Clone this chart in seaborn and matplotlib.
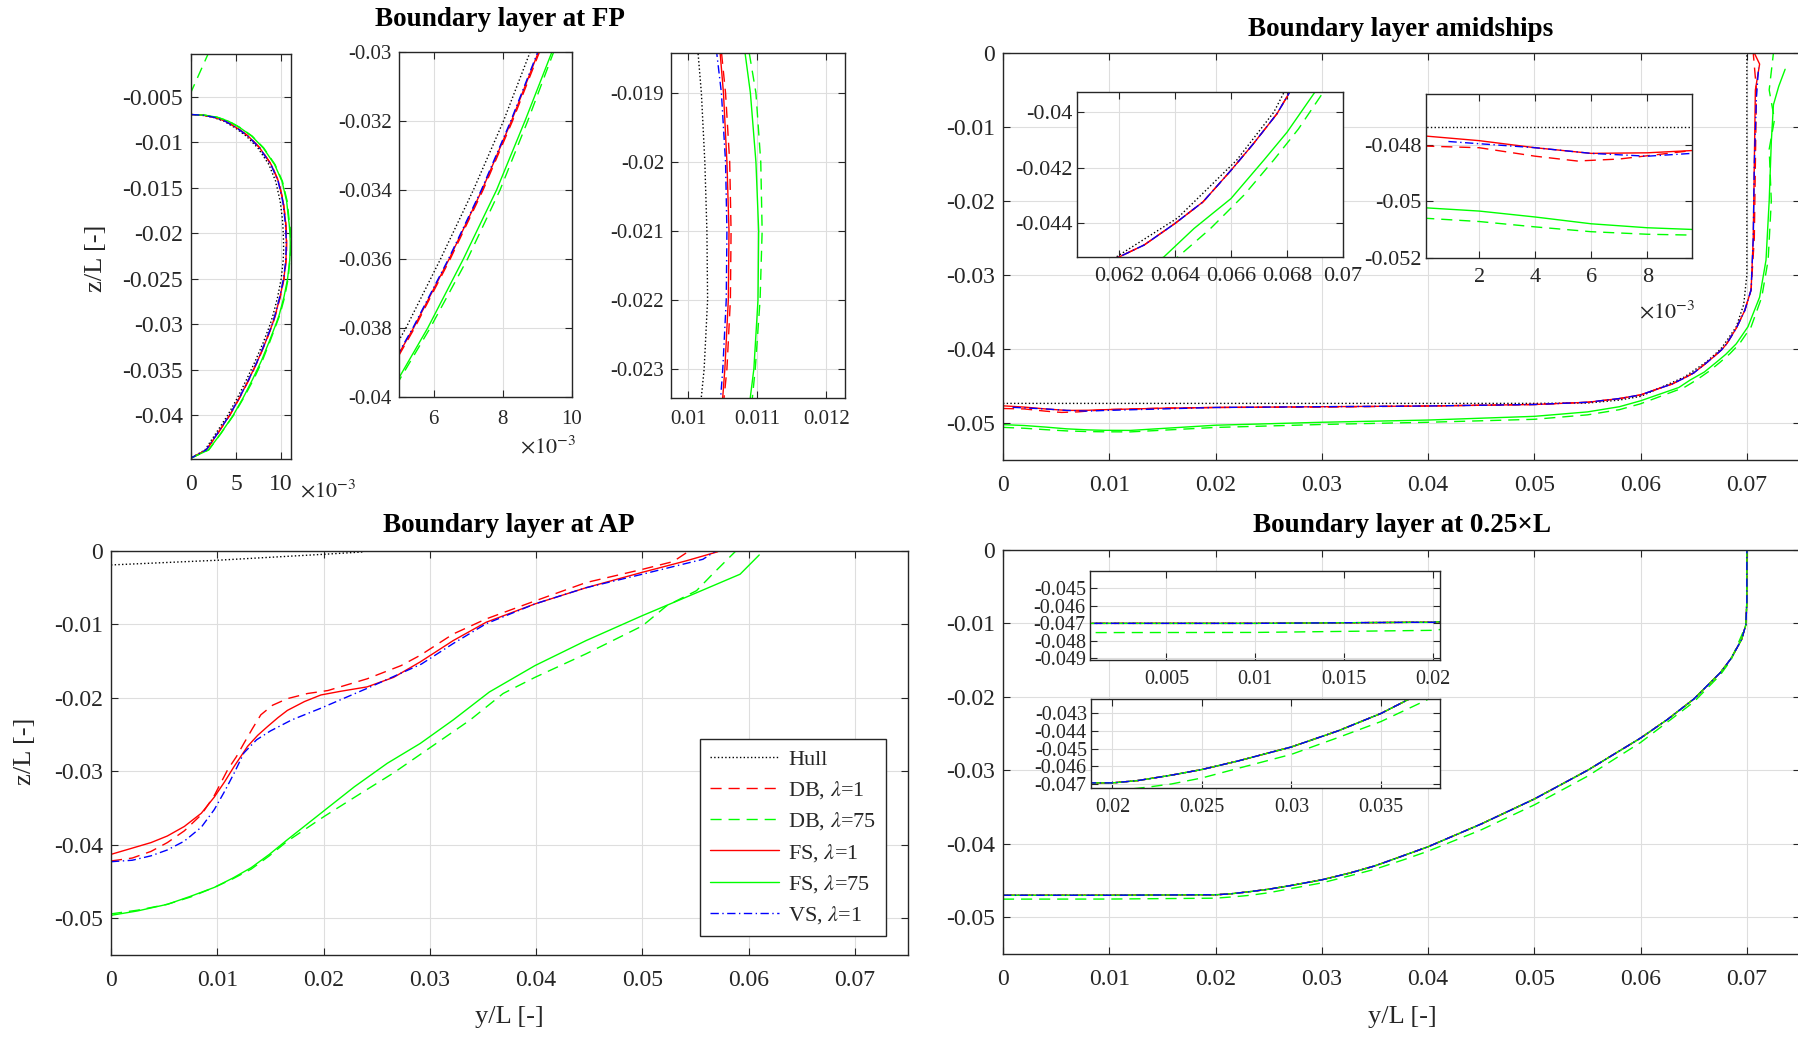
"""
Boundary layer profiles (FP, amidships, AP, 0.25L) - hull vs. DB / FS / VS
"""

import numpy as np
import matplotlib
matplotlib.use('Agg')
import matplotlib.pyplot as plt
from matplotlib.ticker import FuncFormatter
import seaborn as sns

sns.set_theme(style='ticks')
plt.rcParams['font.family'] = ['Liberation Serif', 'DejaVu Serif']
plt.rcParams['mathtext.fontset'] = 'stix'
plt.rcParams['axes.unicode_minus'] = False

W, H = 1798, 1037

# ---------------- FP (x in 1e-3) ----------------
fp_z = [-0.00695, -0.00702, -0.00724, -0.00768, -0.00841, -0.00933, -0.01062, -0.01245,
        -0.01429, -0.01649, -0.0184, -0.0190, -0.0200, -0.0210, -0.0220, -0.0230, -0.0234,
        -0.0250, -0.0270, -0.0290, -0.0300, -0.0320, -0.0340, -0.0360, -0.0380, -0.0400,
        -0.0420, -0.0438, -0.0447]
fp_hull = [0, 1.15, 2.40, 3.65, 4.90, 6.15, 7.42, 8.65, 9.40, 9.90, 10.14, 10.19, 10.24, 10.27,
           10.28, 10.23, 10.19, 10.01, 9.62, 9.10, 8.79, 8.02, 7.15, 6.20, 5.20, 4.07, 2.75, 1.55, 0]
fp_db1 = [0, 1.30, 2.57, 3.84, 5.11, 6.39, 7.66, 8.93, 9.73, 10.25, 10.48, 10.54, 10.60, 10.62,
          10.61, 10.56, 10.52, 10.33, 9.91, 9.38, 9.06, 8.28, 7.43, 6.48, 5.45, 4.31, 2.98, 1.72, 0]
fp_db75 = [0, 1.55, 2.90, 4.20, 5.50, 6.80, 8.07, 9.33, 10.15, 10.68, 10.88, 10.98, 11.05, 11.07,
           11.04, 10.97, 10.93, 10.78, 10.40, 9.85, 9.47, 8.72, 7.92, 6.98, 5.90, 4.72, 3.32, 1.97, 0]
fp_fs1 = [0, 1.27, 2.54, 3.81, 5.08, 6.36, 7.63, 8.90, 9.70, 10.22, 10.46, 10.51, 10.56, 10.59,
          10.58, 10.53, 10.50, 10.30, 9.88, 9.35, 9.03, 8.25, 7.40, 6.45, 5.42, 4.28, 2.95, 1.70, 0]
fp_fs75 = [0, 1.50, 2.85, 4.15, 5.45, 6.75, 8.02, 9.28, 10.10, 10.62, 10.82, 10.90, 10.98, 11.02,
           11.01, 10.95, 10.90, 10.72, 10.32, 9.78, 9.42, 8.64, 7.82, 6.86, 5.83, 4.68, 3.30, 1.95, 0]
fp_vs1 = [0, 1.24, 2.51, 3.78, 5.05, 6.33, 7.60, 8.87, 9.67, 10.19, 10.41, 10.48, 10.54, 10.56,
          10.55, 10.50, 10.47, 10.27, 9.85, 9.32, 9.01, 8.23, 7.38, 6.43, 5.40, 4.26, 2.93, 1.68, 0]
# parts above the hull (top of the FP section)
fp_db1_top_y, fp_db1_top_z = [0.0], [-0.0006]
fp_db75_top_y, fp_db75_top_z = [2.03, 0.0], [0.0, -0.0045]
fp_fs75_top_y, fp_fs75_top_z = [0.0], [-0.0045]

# ---------------- amidships ----------------
ams_hull_y = [0, 0.05, 0.055, 0.058, 0.060, 0.0619, 0.0641, 0.0662, 0.06753, 0.0679, 0.069,
              0.0697, 0.0700, 0.0700]
ams_hull_z = [-0.04735, -0.04735, -0.0473, -0.0469, -0.0464, -0.0452, -0.0438, -0.04174, -0.04002,
              -0.0393, -0.0370, -0.0340, -0.0300, 0.0]
ams_db1_y = [0, 0.002, 0.004, 0.0055, 0.007, 0.0096, 0.015, 0.02, 0.03, 0.04, 0.05, 0.055, 0.058,
             0.060, 0.0620, 0.0629, 0.0640, 0.0650, 0.0660, 0.0668, 0.06764, 0.0681, 0.069,
             0.0698, 0.0704, 0.0707, 0.0708, 0.0709, 0.0706]
ams_db1_z = [-0.04804, -0.0481, -0.0484, -0.04857, -0.0485, -0.0482, -0.0480, -0.0479, -0.04785,
             -0.0477, -0.0475, -0.0472, -0.0467, -0.0462, -0.0452, -0.04477, -0.0440, -0.04323,
             -0.0421, -0.04115, -0.04008, -0.0393, -0.0372, -0.0348, -0.0320, -0.0250, -0.0150,
             -0.0050, 0.0]
ams_db75_y = [0, 0.002, 0.004, 0.006, 0.008, 0.0096, 0.012, 0.02, 0.03, 0.04, 0.05, 0.055, 0.058,
              0.060, 0.0641, 0.06527, 0.06646, 0.06752, 0.06841, 0.0693, 0.0704, 0.0714, 0.0720,
              0.0723, 0.0721, 0.0726, 0.0721, 0.0725]
ams_db75_z = [-0.05059, -0.05071, -0.0509, -0.05107, -0.05116, -0.05119, -0.0512, -0.0506, -0.0502,
              -0.0499, -0.0495, -0.0489, -0.0482, -0.0474, -0.0452, -0.04418, -0.04299, -0.04174,
              -0.04062, -0.0393, -0.0370, -0.0330, -0.0280, -0.0200, -0.0130, -0.0090, -0.0050, 0.0]
ams_fs1_y = [0, 0.002, 0.004, 0.006, 0.008, 0.0096, 0.015, 0.02, 0.03, 0.04, 0.05, 0.055, 0.058,
             0.060, 0.0620, 0.0629, 0.0640, 0.0650, 0.0660, 0.0668, 0.06764, 0.0681, 0.069,
             0.0698, 0.0704, 0.0706, 0.0707, 0.0708, 0.0712, 0.0707]
ams_fs1_z = [-0.04768, -0.04785, -0.0481, -0.0483, -0.04828, -0.0482, -0.0480, -0.0479, -0.0478,
             -0.0477, -0.0475, -0.0472, -0.0467, -0.0462, -0.0452, -0.04477, -0.0440, -0.04323,
             -0.0421, -0.04115, -0.04008, -0.0393, -0.0372, -0.0348, -0.0320, -0.0250, -0.0150,
             -0.0050, -0.0015, 0.0]
ams_fs75_y = [0, 0.002, 0.004, 0.006, 0.008, 0.0096, 0.012, 0.02, 0.03, 0.04, 0.05, 0.055, 0.058,
              0.060, 0.0636, 0.06468, 0.0660, 0.06717, 0.0680, 0.0690, 0.0701, 0.0712, 0.0718,
              0.0721, 0.0723, 0.0725, 0.0730, 0.0736]
ams_fs75_z = [-0.05022, -0.05034, -0.05055, -0.05079, -0.05093, -0.05099, -0.0510, -0.0503, -0.0499,
              -0.0496, -0.0491, -0.0485, -0.0478, -0.0470, -0.0452, -0.04418, -0.04311, -0.04174,
              -0.04074, -0.0393, -0.0370, -0.0330, -0.0280, -0.0200, -0.0120, -0.0070, -0.0045,
              -0.0022]
ams_vs1_y = [0.0009, 0.004, 0.006, 0.008, 0.0096, 0.015, 0.02, 0.03, 0.04, 0.05, 0.055, 0.058,
             0.060, 0.0620, 0.0629, 0.0640, 0.0650, 0.0660, 0.0668, 0.06764, 0.0681, 0.069, 0.0698,
             0.0704, 0.0706, 0.0707, 0.0709, 0.0711]
ams_vs1_z = [-0.04788, -0.0481, -0.0483, -0.0484, -0.0483, -0.0481, -0.0479, -0.0478, -0.0477,
             -0.0475, -0.0472, -0.0467, -0.0462, -0.0452, -0.04477, -0.0440, -0.04323, -0.0421,
             -0.04115, -0.04008, -0.0393, -0.0372, -0.0348, -0.0320, -0.0250, -0.0150, -0.0060,
             -0.0020]

# ---------------- AP ----------------
ap_hull_y = [0, 0.01, 0.02, 0.0238]
ap_hull_z = [-0.0019, -0.00126, -0.00045, -0.00012]
ap_db1_y = [0, 0.002, 0.00376, 0.0053, 0.0069, 0.0085, 0.00972, 0.01097, 0.0118, 0.0125, 0.0133,
            0.0141, 0.0152, 0.0166, 0.0185, 0.0204, 0.0241, 0.0273, 0.0291, 0.0322, 0.0353, 0.0399,
            0.0447, 0.050, 0.0529, 0.0544]
ap_db1_z = [-0.0422, -0.0418, -0.0409, -0.0397, -0.0381, -0.0359, -0.0333, -0.0298, -0.0280,
            -0.0262, -0.0242, -0.0223, -0.0210, -0.0201, -0.0194, -0.0190, -0.0174, -0.0156,
            -0.0142, -0.0113, -0.00925, -0.0068, -0.0043, -0.0025, -0.00144, 0.0]
ap_db75_y = [0, 0.0025, 0.0053, 0.0075, 0.00972, 0.0115, 0.0132, 0.0149, 0.0166, 0.0201, 0.0235,
             0.0266, 0.0304, 0.0338, 0.0369, 0.0399, 0.0447, 0.050, 0.0523, 0.0551, 0.0566, 0.0588]
ap_db75_z = [-0.0494, -0.0489, -0.0481, -0.0471, -0.0458, -0.0446, -0.0433, -0.0415, -0.0395,
             -0.0361, -0.0330, -0.0302, -0.0264, -0.0230, -0.0194, -0.0172, -0.0140, -0.0102,
             -0.00745, -0.0054, -0.00316, 0.0]
ap_fs1_y = [0, 0.00376, 0.0053, 0.0069, 0.0085, 0.00972, 0.0107, 0.0116, 0.01285, 0.0138, 0.01473,
            0.0157, 0.0166, 0.0182, 0.01975, 0.0216, 0.0241, 0.0266, 0.0291, 0.0322, 0.0353,
            0.0399, 0.0447, 0.050, 0.0541, 0.0571]
ap_fs1_z = [-0.0413, -0.0397, -0.0388, -0.0375, -0.0357, -0.0335, -0.0314, -0.0293, -0.0266,
            -0.0251, -0.0239, -0.0227, -0.0217, -0.0205, -0.0196, -0.0191, -0.0185, -0.0172,
            -0.0151, -0.0122, -0.0097, -0.0072, -0.0050, -0.0029, -0.00135, -0.0001]
ap_fs75_y = [0, 0.0025, 0.0053, 0.0075, 0.00972, 0.0115, 0.0132, 0.0149, 0.0166, 0.01975, 0.0229,
             0.0260, 0.0291, 0.0322, 0.0356, 0.0399, 0.0447, 0.050, 0.0541, 0.0592, 0.0610]
ap_fs75_z = [-0.0496, -0.0490, -0.0481, -0.0470, -0.0458, -0.0445, -0.0431, -0.0413, -0.0393,
             -0.0357, -0.0321, -0.0289, -0.0262, -0.0230, -0.0192, -0.0156, -0.0122, -0.0088,
             -0.0063, -0.00316, -0.00054]
ap_vs1_y = [0, 0.002, 0.00376, 0.0053, 0.0069, 0.0085, 0.00972, 0.0107, 0.0116, 0.0125, 0.0137,
            0.0150, 0.0170, 0.01975, 0.0241, 0.0292, 0.0322, 0.0353, 0.0399, 0.0447, 0.050,
            0.0557, 0.0568]
ap_vs1_z = [-0.0423, -0.0421, -0.0415, -0.0407, -0.0395, -0.0376, -0.0352, -0.0327, -0.0302,
            -0.0275, -0.0257, -0.0245, -0.0230, -0.0214, -0.0187, -0.0154, -0.0126, -0.0099,
            -0.0072, -0.0050, -0.00316, -0.00113, -0.0001]

# ---------------- 0.25 x L ----------------
q_fs_y = [0, 0.01, 0.0188, 0.02, 0.0214, 0.0233, 0.025, 0.027, 0.03, 0.0326, 0.035, 0.0367, 0.04,
          0.045, 0.05, 0.055, 0.06, 0.0625, 0.065, 0.0675, 0.0685, 0.0695, 0.0699, 0.0700, 0.0700]
q_fs_z = [-0.0470, -0.0470, -0.04694, -0.04694, -0.04681, -0.0465, -0.04618, -0.0457, -0.0449,
          -0.04399, -0.0430, -0.04212, -0.0404, -0.0373, -0.0339, -0.0300, -0.0256, -0.0231,
          -0.0203, -0.0167, -0.0148, -0.0122, -0.0102, -0.0070, 0.0]
q_db75_y = [0, 0.01, 0.02, 0.0219, 0.0233, 0.025, 0.027, 0.03, 0.0326, 0.035, 0.0378, 0.04, 0.045,
            0.05, 0.055, 0.06, 0.065, 0.0675, 0.0685, 0.0699, 0.0700, 0.0700]
q_db75_z = [-0.04753, -0.04752, -0.0474, -0.04719, -0.0470, -0.04666, -0.04612, -0.04532, -0.04437,
            -0.04346, -0.04212, -0.0410, -0.0381, -0.0347, -0.0308, -0.0262, -0.0207, -0.0170,
            -0.0150, -0.0103, -0.0070, 0.0]

SERIES = ['Hull', 'DB1', 'DB75', 'FS1', 'FS75', 'VS1']
LABELS = ['Hull', r'DB, $\lambda$=1', r'DB, $\lambda$=75', r'FS, $\lambda$=1',
          r'FS, $\lambda$=75', r'VS, $\lambda$=1']
STYLE = {
    'Hull': dict(color='black', ls=':'),
    'DB1': dict(color='#ff0000', ls=(0, (8, 5))),
    'DB75': dict(color='#00ff00', ls=(0, (8, 5))),
    'FS1': dict(color='#ff0000', ls='-'),
    'FS75': dict(color='#00ff00', ls='-'),
    'VS1': dict(color='#0000ff', ls=(0, (6, 2.5, 1, 2.5))),
}

e3 = 1e-3
fp_data = {
    'Hull': (np.array(fp_hull) * e3, fp_z),
    'DB1': (np.array(fp_db1_top_y + fp_db1) * e3, fp_db1_top_z + fp_z),
    'DB75': (np.array(fp_db75_top_y + fp_db75) * e3, fp_db75_top_z + fp_z),
    'FS1': (np.array(fp_fs1) * e3, fp_z),
    'FS75': (np.array(fp_fs75_top_y + fp_fs75) * e3, fp_fs75_top_z + fp_z),
    'VS1': (np.array(fp_vs1) * e3, fp_z),
}
ams_data = {
    'Hull': (ams_hull_y, ams_hull_z), 'DB1': (ams_db1_y, ams_db1_z),
    'DB75': (ams_db75_y, ams_db75_z), 'FS1': (ams_fs1_y, ams_fs1_z),
    'FS75': (ams_fs75_y, ams_fs75_z), 'VS1': (ams_vs1_y, ams_vs1_z),
}
ap_data = {
    'Hull': (ap_hull_y, ap_hull_z), 'DB1': (ap_db1_y, ap_db1_z),
    'DB75': (ap_db75_y, ap_db75_z), 'FS1': (ap_fs1_y, ap_fs1_z),
    'FS75': (ap_fs75_y, ap_fs75_z), 'VS1': (ap_vs1_y, ap_vs1_z),
}
q_data = {
    'Hull': (q_fs_y, q_fs_z), 'DB1': (q_fs_y, q_fs_z),
    'DB75': (q_db75_y, q_db75_z), 'FS1': (q_fs_y, q_fs_z),
    'FS75': (q_fs_y, q_fs_z), 'VS1': (q_fs_y, q_fs_z),
}

fig = plt.figure(figsize=(W / 100, H / 100), dpi=100)


def px_axes(l, t, r, b):
    return fig.add_axes([l / W, 1 - b / H, (r - l) / W, (b - t) / H])


def draw(ax, data):
    for key in SERIES:
        x, z = data[key]
        st = STYLE[key]
        sns.lineplot(x=list(x), y=list(z), ax=ax, sort=False, estimator=None,
                     color=st['color'], linestyle=st['ls'], linewidth=1.0)


def style_ax(ax, xlim, ylim, xticks, yticks, fs, xpad, ypad, scale_x=False):
    ax.set_xlim(xlim)
    ax.set_ylim(ylim)
    ax.set_xticks(xticks)
    ax.set_yticks(yticks)
    if scale_x:
        ax.xaxis.set_major_formatter(FuncFormatter(lambda v, p: '%g' % round(v * 1e3, 6)))
    else:
        ax.xaxis.set_major_formatter(FuncFormatter(lambda v, p: '%g' % round(v, 6)))
    ax.yaxis.set_major_formatter(FuncFormatter(lambda v, p: '%g' % round(v, 6)))
    ax.set_facecolor('white')
    ax.grid(True, color='#dedede', linewidth=0.8)
    ax.set_axisbelow(True)
    ax.tick_params(direction='in', top=True, right=True, bottom=True, left=True,
                   length=5, width=0.8, color='#262626', labelsize=fs, labelcolor='#262626')
    ax.tick_params(axis='x', pad=xpad)
    ax.tick_params(axis='y', pad=ypad)
    for s in ax.spines.values():
        s.set_visible(True)
        s.set_color('#262626')
        s.set_linewidth(1.0)
    ax.set_xlabel('')
    ax.set_ylabel('')


# FP panels
ax = px_axes(191, 54, 291, 459)
draw(ax, fp_data)
style_ax(ax, (0, 0.0111), (-0.0448, -0.0003), [0, 0.005, 0.010],
         [-0.04, -0.035, -0.03, -0.025, -0.02, -0.015, -0.01, -0.005], 17, 11, 6, scale_x=True)

ax = px_axes(399, 52, 572, 397)
draw(ax, fp_data)
style_ax(ax, (0.005, 0.010), (-0.04, -0.03), [0.006, 0.008, 0.010],
         [-0.04, -0.038, -0.036, -0.034, -0.032, -0.03], 15, 9, 5, scale_x=True)

ax = px_axes(671, 53, 845, 398)
draw(ax, fp_data)
style_ax(ax, (0.00975, 0.01227), (-0.02342, -0.01842), [0.010, 0.011, 0.012],
         [-0.023, -0.022, -0.021, -0.02, -0.019], 15, 9, 5)

# amidships
ax = px_axes(1003, 53, 1800, 460)
draw(ax, ams_data)
style_ax(ax, (0, 0.075), (-0.055, 0), [0, 0.01, 0.02, 0.03, 0.04, 0.05, 0.06, 0.07],
         [-0.05, -0.04, -0.03, -0.02, -0.01, 0], 17, 11, 6)

ax = px_axes(1077, 92, 1343, 257)
draw(ax, ams_data)
style_ax(ax, (0.0605, 0.070), (-0.0452, -0.0393), [0.062, 0.064, 0.066, 0.068, 0.070],
         [-0.044, -0.042, -0.04], 16, 7, 3)

ax = px_axes(1426, 94, 1692, 258)
draw(ax, ams_data)
style_ax(ax, (0.0001, 0.0096), (-0.052, -0.0462), [0.002, 0.004, 0.006, 0.008],
         [-0.052, -0.05, -0.048], 16, 7, 3, scale_x=True)

# AP
ax_ap = px_axes(111, 551, 908, 955)
draw(ax_ap, ap_data)
style_ax(ax_ap, (0, 0.075), (-0.055, 0), [0, 0.01, 0.02, 0.03, 0.04, 0.05, 0.06, 0.07],
         [-0.05, -0.04, -0.03, -0.02, -0.01, 0], 17, 11, 6)
handles = list(ax_ap.get_lines())[:len(SERIES)]
leg = ax_ap.legend(handles, LABELS, loc='lower right',
                   bbox_to_anchor=(1 - 22 / 797, 19 / 404), borderaxespad=0, fontsize=16,
                   frameon=True, fancybox=False, edgecolor='#262626', framealpha=1,
                   handlelength=3.1, labelspacing=0.42, borderpad=0.45, handletextpad=0.4)
leg.get_frame().set_linewidth(1.0)

# 0.25 x L
ax = px_axes(1003, 550, 1800, 954)
draw(ax, q_data)
style_ax(ax, (0, 0.075), (-0.055, 0), [0, 0.01, 0.02, 0.03, 0.04, 0.05, 0.06, 0.07],
         [-0.05, -0.04, -0.03, -0.02, -0.01, 0], 17, 11, 6)

ax = px_axes(1090, 571, 1440, 660)
draw(ax, q_data)
style_ax(ax, (0.0007, 0.0204), (-0.0491, -0.044), [0.005, 0.01, 0.015, 0.02],
         [-0.049, -0.048, -0.047, -0.046, -0.045], 14.5, 7, 3)

ax = px_axes(1091, 699, 1440, 788)
draw(ax, q_data)
style_ax(ax, (0.0188, 0.0383), (-0.04723, -0.04218), [0.02, 0.025, 0.03, 0.035],
         [-0.047, -0.046, -0.045, -0.044, -0.043], 14.5, 7, 3)

# titles and labels
tkw = dict(ha='center', va='center', fontsize=19.5, fontweight='bold', color='black')
fig.text(500 / W, 1 - 20 / H, 'Boundary layer at FP', **tkw)
fig.text(1401 / W, 1 - 30 / H, 'Boundary layer amidships', **tkw)
fig.text(509 / W, 1 - 525 / H, 'Boundary layer at AP', **tkw)
fig.text(1402 / W, 1 - 525 / H, 'Boundary layer at 0.25\u00d7L', **tkw)

lkw = dict(ha='center', va='center', fontsize=19, color='#262626')
fig.text(96 / W, 1 - 258 / H, 'z/L [-]', rotation=90, **lkw)
fig.text(25 / W, 1 - 751 / H, 'z/L [-]', rotation=90, **lkw)
fig.text(509 / W, 1 - 1017 / H, 'y/L [-]', **lkw)
fig.text(1402 / W, 1 - 1017 / H, 'y/L [-]', **lkw)

mkw = dict(ha='center', va='center', fontsize=16, color='#262626')
fig.text(328 / W, 1 - 491 / H, r'$\times10^{-3}$', **mkw)
fig.text(548 / W, 1 - 447 / H, r'$\times10^{-3}$', **mkw)
fig.text(1667 / W, 1 - 312 / H, r'$\times10^{-3}$', **mkw)

fig.savefig('out.png', dpi=100)
